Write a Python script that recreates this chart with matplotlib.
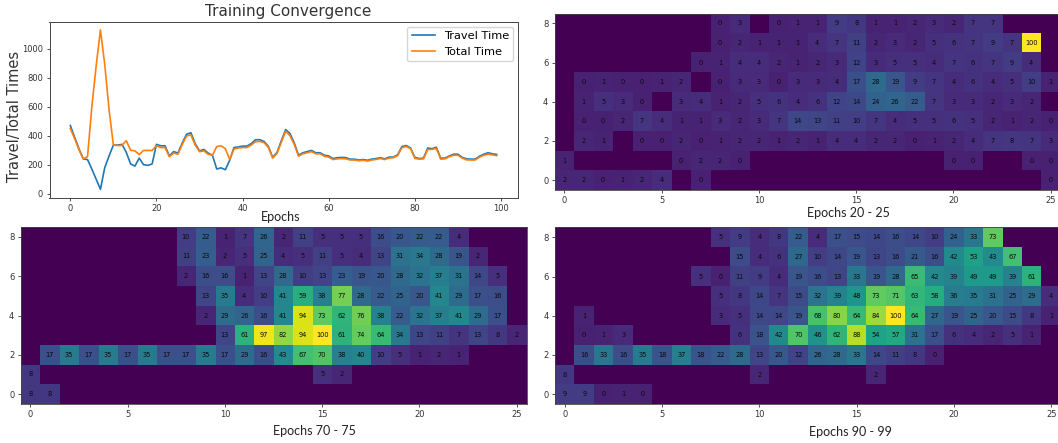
import matplotlib
matplotlib.use('Agg')
import matplotlib.pyplot as plt
import numpy as np

W, H = 1058, 443
n = np.nan

epochs = list(range(100))
travel_time = [470, 390, 310, 240, 235, 170, 100, 30, 180, 260,
               335, 335, 340, 285, 205, 190, 245, 200, 195, 205,
               340, 330, 330, 260, 290, 280, 350, 410, 420, 345,
               295, 305, 280, 265, 170, 178, 165, 230, 318, 322,
               328, 328, 345, 372, 372, 360, 325, 250, 285, 365,
               442, 415, 350, 265, 282, 290, 298, 282, 282, 265,
               260, 242, 248, 250, 248, 238, 238, 232, 235, 230,
               238, 242, 248, 240, 252, 252, 268, 325, 332, 315,
               250, 242, 245, 315, 310, 320, 245, 245, 260, 272,
               272, 250, 240, 238, 238, 258, 272, 282, 275, 270]
total_time = [450, 380, 305, 240, 255, 600, 880, 1130, 890, 580,
              335, 332, 333, 365, 300, 295, 270, 298, 298, 298,
              332, 318, 318, 255, 280, 272, 340, 398, 405, 335,
              290, 295, 272, 265, 325, 330, 310, 235, 308, 315,
              318, 318, 335, 358, 360, 352, 318, 245, 278, 355,
              430, 400, 340, 258, 275, 282, 290, 275, 275, 258,
              252, 235, 240, 242, 240, 232, 232, 227, 230, 225,
              232, 236, 242, 235, 245, 248, 262, 318, 325, 310,
              243, 238, 240, 305, 305, 312, 238, 240, 255, 265,
              265, 245, 233, 232, 232, 252, 265, 272, 268, 262]

# rows listed from y=0 up to y=8, n = empty cell
epochs_20_25 = [
    [2, 2, 0, 1, 2, 4, n, 0, n, n, n, n, n, n, n, n, n, n, n, n, n, n, n, n, n, 0],
    [1, n, n, n, n, n, 0, 2, 2, 0, n, n, n, n, n, n, n, n, n, n, 0, 0, n, n, 0, 0],
    [n, 2, 1, n, 0, 0, 2, 0, 1, 2, 2, 1, 2, 1, 4, 4, 2, 2, 0, 1, 2, 4, 7, 8, 7, 3],
    [n, 0, 0, 2, 7, 4, 1, 1, 3, 2, 3, 7, 14, 13, 11, 10, 7, 4, 5, 5, 6, 5, 2, 1, 2, 0],
    [n, 1, 5, 3, 0, n, 3, 4, 1, 2, 5, 6, 4, 6, 12, 14, 24, 26, 22, 7, 3, 3, 2, 3, 2, n],
    [n, 0, 1, 0, 0, 1, 2, n, 0, 3, 3, 0, 3, 3, 4, 17, 28, 19, 9, 7, 4, 6, 4, 5, 10, 1],
    [n, n, n, n, n, n, n, 0, 1, 4, 4, 2, 1, 2, 3, 12, 3, 5, 5, 4, 7, 6, 7, 9, 4, n],
    [n, n, n, n, n, n, n, n, 0, 2, 1, 1, 1, 4, 7, 11, 2, 3, 2, 5, 6, 7, 9, 7, 100, n],
    [n, n, n, n, n, n, n, n, 0, 3, n, 0, 1, 1, 9, 8, 1, 1, 2, 3, 2, 7, 7, n, n, n],
]
epochs_70_75 = [
    [8, 8, n, n, n, n, n, n, n, n, n, n, n, n, n, n, n, n, n, n, n, n, n, n, n, n],
    [8, n, n, n, n, n, n, n, n, n, n, n, n, n, n, 5, 2, n, n, n, n, n, n, n, n, n],
    [n, 17, 35, 17, 35, 17, 35, 17, 17, 35, 17, 29, 16, 43, 67, 70, 38, 40, 10, 5, 1, 2, 1, n, n, n],
    [n, n, n, n, n, n, n, n, n, n, 13, 61, 97, 82, 94, 100, 61, 74, 64, 34, 13, 11, 7, 13, 8, 2],
    [n, n, n, n, n, n, n, n, n, 2, 29, 26, 16, 41, 94, 73, 62, 76, 38, 22, 32, 37, 41, 29, 17, n],
    [n, n, n, n, n, n, n, n, n, 13, 35, 4, 10, 41, 59, 38, 77, 28, 22, 25, 20, 41, 29, 17, 16, n],
    [n, n, n, n, n, n, n, n, 2, 16, 16, 1, 13, 28, 10, 13, 23, 19, 20, 28, 32, 37, 31, 14, 5, n],
    [n, n, n, n, n, n, n, n, 11, 23, 2, 5, 25, 4, 5, 11, 5, 4, 13, 31, 34, 28, 19, 2, n, n],
    [n, n, n, n, n, n, n, n, 10, 22, 1, 7, 26, 2, 11, 5, 5, 5, 16, 20, 22, 22, 4, n, n, n],
]
epochs_90_99 = [
    [9, 9, 0, 1, 0, n, n, n, n, n, n, n, n, n, n, n, n, n, n, n, n, n, n, n, n, n],
    [8, n, n, n, n, n, n, n, n, n, 2, n, n, n, n, n, 2, n, n, n, n, n, n, n, n, n],
    [n, 16, 33, 16, 35, 18, 37, 18, 22, 28, 13, 20, 12, 26, 28, 33, 14, 11, 8, 0, n, n, n, n, n, n],
    [n, 0, 1, 3, n, n, n, n, n, 6, 18, 42, 70, 46, 62, 88, 54, 57, 31, 17, 6, 4, 2, 5, 1, n],
    [n, 1, n, n, n, n, n, n, 3, 5, 14, 14, 19, 68, 80, 64, 84, 100, 64, 27, 19, 25, 20, 15, 8, 1],
    [n, n, n, n, n, n, n, n, 5, 8, 14, 7, 15, 32, 39, 48, 73, 71, 63, 58, 36, 35, 31, 25, 29, 4],
    [n, n, n, n, n, n, n, 5, 0, 11, 9, 4, 19, 16, 13, 33, 19, 28, 65, 42, 39, 49, 49, 39, 61, n],
    [n, n, n, n, n, n, n, n, n, 15, 4, 6, 27, 10, 14, 19, 13, 16, 21, 16, 42, 53, 43, 67, n, n],
    [n, n, n, n, n, n, n, n, 5, 9, 4, 8, 22, 4, 17, 15, 14, 16, 14, 10, 24, 33, 73, n, n, n],
]


def px_axes(fig, left, top, right, bottom):
    return fig.add_axes([left / W, 1 - bottom / H, (right - left) / W, (bottom - top) / H])


def heatmap(ax, values):
    grid = np.array(values, dtype=float)
    cmap = plt.get_cmap('viridis').copy()
    cmap.set_bad(cmap(0.0))
    ax.imshow(grid, origin='lower', aspect='auto', cmap=cmap, vmin=-10, vmax=100,
              interpolation='nearest')
    for (row, col), v in np.ndenumerate(grid):
        if not np.isnan(v):
            ax.text(col, row, str(int(v)), ha='center', va='center', fontsize=4.8, color='#0a0a0a')
    ax.set_xticks(range(0, 26, 5))
    ax.set_yticks(range(0, 9, 2))
    ax.tick_params(labelsize=6, length=2.5, width=0.6, pad=2, colors='#333333')
    for s in ax.spines.values():
        s.set_linewidth(0.6)
        s.set_color('#444444')


fig = plt.figure(figsize=(W / 100, H / 100), dpi=100)

ax = px_axes(fig, 49.5, 22, 518, 198)
ax.plot(epochs, travel_time, color='#1f77b4', linewidth=1.2, label='Travel Time')
ax.plot(epochs, total_time, color='#ff7f0e', linewidth=1.2, label='Total Time')
ax.set_xlim(-4.83, 103.95)
ax.set_ylim(-30, 1184)
ax.set_xticks(range(0, 101, 20))
ax.set_yticks(range(0, 1001, 200))
ax.tick_params(labelsize=6, length=2.5, width=0.6, pad=2, colors='#333333')
ax.set_xlabel('')
fig.text(288 / W, 1 - 11.5 / H, 'Training Convergence', ha='center', va='center',
         fontsize=11, color='#333333')
fig.text(15 / W, 1 - 116 / H, 'Travel/Total Times', ha='center', va='center',
         rotation=90, fontsize=10.5, color='#333333')
ax.legend(loc='upper right', fontsize=8.2, borderaxespad=0.4, handlelength=2.0)
for s in ax.spines.values():
    s.set_linewidth(0.7)
    s.set_color('#444444')

heatmap(px_axes(fig, 554.5, 13.5, 1060.5, 190), epochs_20_25)
heatmap(px_axes(fig, 20.5, 227, 526.5, 404), epochs_70_75)
heatmap(px_axes(fig, 555, 227.5, 1061, 404), epochs_90_99)

# captions sit outside the axes, as in the pasted-together original
for x, y, label in [(281, 217, 'Epochs'), (848, 213, 'Epochs 20 - 25'),
                    (314, 431, 'Epochs 70 - 75'), (850, 432, 'Epochs 90 - 99')]:
    fig.text(x / W, 1 - y / H, label, ha='center', va='center', fontsize=9,
             family='Lato', color='#222222')

fig.savefig('out.png', dpi=100)
